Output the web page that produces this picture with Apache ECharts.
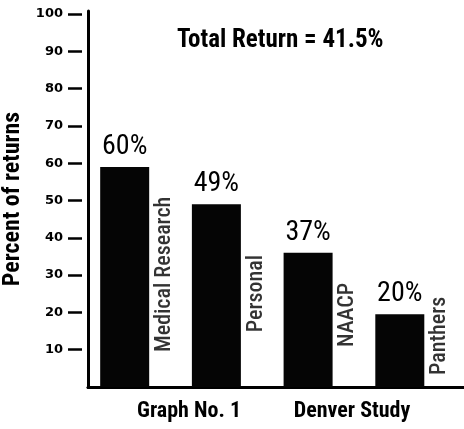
<!DOCTYPE html>
<html>
<head>
<meta charset="utf-8">
<script src="https://cdn.jsdelivr.net/npm/echarts@6/dist/echarts.min.js"></script>
<style>
  html, body { margin: 0; padding: 0; background: #fff; }
  #chart { width: 464px; height: 429px; }
</style>
</head>
<body>
<div id="chart"></div>
<script>
// values
var categories = ['Medical Research', 'Personal', 'NAACP', 'Panthers'];
var barValues = [59, 49, 36, 19.5];
var valueLabels = ['60%', '49%', '37%', '20%'];
var yTicks = [10, 20, 30, 40, 50, 60, 70, 80, 90, 100];
var groups = ['Graph No. 1', 'Denver Study'];
var totalReturn = 41.5;

// layout
var FONT = 'Roboto, "DejaVu Sans Condensed", sans-serif';
var nameOffset = 0.435;                // name sits right of its bar (x units)
var nameBase = [9.4, 14.7, 10.7, 3.2]; // bottom of each vertical name (y units)
var groupX = [189, 352];

var chart = echarts.init(document.getElementById('chart'), null, { renderer: 'canvas' });

var barData = barValues.map(function (v, i) { return [i + 1, v]; });
var nameData = categories.map(function (c, i) { return [i + 1 + nameOffset, nameBase[i]]; });

chart.setOption({
  backgroundColor: '#fff',
  animation: false,
  title: {
    text: 'Total Return = ' + totalReturn + '%',
    left: 172, top: 23,
    textStyle: { fontFamily: FONT, fontStyle: 'condensed', fontSize: 25, fontWeight: 'bold', color: '#000' }
  },
  grid: { left: 88, right: 0, top: 11, bottom: 42, outerBoundsMode: 'none' },
  xAxis: [{
    type: 'value', min: 0.6, max: 4.7, position: 'bottom',
    axisLine: { show: true, lineStyle: { color: '#000', width: 3 } },
    axisTick: { show: false }, axisLabel: { show: false }, splitLine: { show: false }
  }, {
    type: 'value', min: 0.6, max: 4.7, position: 'top',
    axisLine: { show: true, lineStyle: { color: '#000', width: 2.5 } },
    axisTick: { show: false }, axisLabel: { show: false }, splitLine: { show: false }
  }],
  yAxis: [{
    type: 'value', min: 0, max: 100.8, position: 'left', offset: 6,
    name: 'Percent of returns', nameLocation: 'middle', nameGap: 53, nameRotate: 90,
    nameTextStyle: { fontFamily: FONT, fontStyle: 'condensed', fontSize: 24, fontWeight: 'bold', color: '#000' },
    axisLine: { show: false },
    axisTick: { show: true, length: 14, customValues: yTicks, lineStyle: { color: '#000', width: 2.5 } },
    axisLabel: { show: true, customValues: yTicks, margin: 19,
      fontFamily: '"DejaVu Sans", sans-serif', fontSize: 13, fontWeight: 'bold', color: '#000' },
    splitLine: { show: false }
  }, {
    type: 'value', min: 0, max: 100.8, position: 'left', offset: 0,
    axisLine: { show: true, lineStyle: { color: '#000', width: 3 } },
    axisTick: { show: false }, axisLabel: { show: false }, splitLine: { show: false }
  }],
  series: [{
    type: 'bar',
    data: barData,
    barWidth: 49,
    itemStyle: { color: '#050505' },
    label: {
      show: true, position: 'top', distance: 6,
      formatter: function (p) { return valueLabels[p.dataIndex]; },
      fontFamily: FONT, fontStyle: 'condensed', fontSize: 28, color: '#000'
    }
  }, {
    type: 'scatter',
    data: nameData,
    symbolSize: 0,
    silent: true,
    label: {
      show: true, position: 'inside', rotate: 90, align: 'left', verticalAlign: 'middle',
      formatter: function (p) { return categories[p.dataIndex]; },
      fontFamily: FONT, fontStyle: 'condensed', fontWeight: 500, fontSize: 22, color: '#000'
    }
  }],
  graphic: groups.map(function (g, i) {
    return {
      type: 'text', x: groupX[i], y: 411,
      style: {
        text: g, fill: '#000', align: 'center', verticalAlign: 'middle',
        font: 'condensed bold 22px ' + FONT
      }
    };
  })
});
</script>
</body>
</html>
